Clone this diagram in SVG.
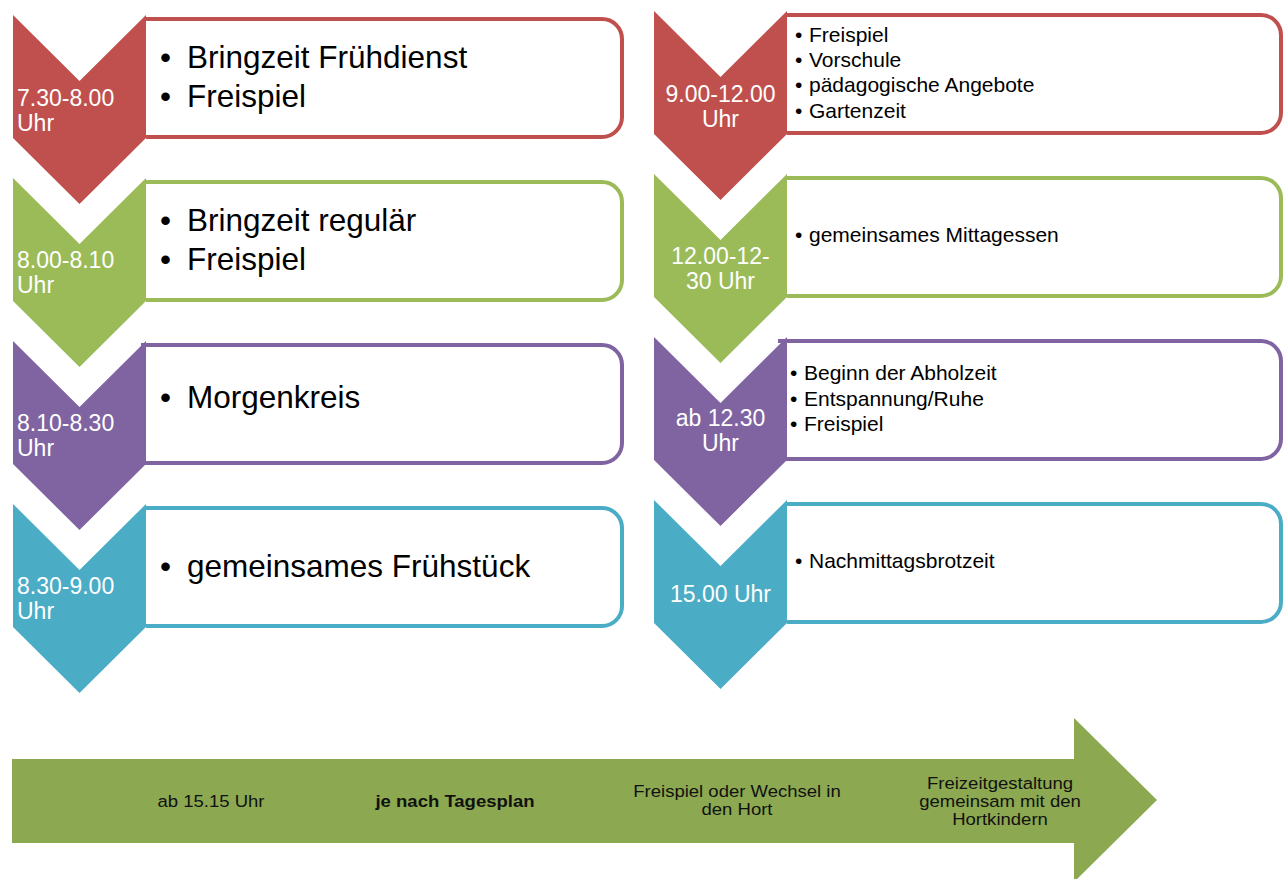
<svg xmlns="http://www.w3.org/2000/svg" width="1284" height="879" viewBox="0 0 1284 879">
<style>
  text { font-family: "Liberation Sans", Arial, sans-serif; }
  .box { fill: #ffffff; stroke-width: 4; }
  .big { font-size: 31.5px; fill: #000000; }
  .med { font-size: 21px; fill: #000000; }
  .lbl { font-size: 23px; fill: #ffffff; }
  .lblc { font-size: 23px; fill: #ffffff; text-anchor: middle; }
  .arr { font-size: 17px; fill: #111111; text-anchor: middle; }
  .red { fill: #C0504D; } .redS { stroke: #C0504D; }
  .grn { fill: #9BBB59; } .grnS { stroke: #9BBB59; }
  .pur { fill: #8064A2; } .purS { stroke: #8064A2; }
  .blu { fill: #4BACC6; } .bluS { stroke: #4BACC6; }
</style>
<rect width="1284" height="879" fill="#ffffff"/>

<!-- Left column -->
<g id="l1">
  <path class="box redS" d="M146,19 H602 A20,20 0 0 1 622,39 V117 A20,20 0 0 1 602,137 H146"/>
  <polygon class="red" points="13,15 79.5,81 146,15 146,138 79.5,204 13,138"/>
  <text class="lbl" x="17" y="106">7.30-8.00</text>
  <text class="lbl" x="17" y="131">Uhr</text>
  <text class="big" x="160" y="68">•</text><text class="big" x="187" y="68">Bringzeit Frühdienst</text>
  <text class="big" x="160" y="107">•</text><text class="big" x="187" y="107">Freispiel</text>
</g>
<g id="l2">
  <path class="box grnS" d="M146,182 H602 A20,20 0 0 1 622,202 V280 A20,20 0 0 1 602,300 H146"/>
  <polygon class="grn" points="13,178 79.5,244 146,178 146,301 79.5,367 13,301"/>
  <text class="lbl" x="17" y="268">8.00-8.10</text>
  <text class="lbl" x="17" y="293">Uhr</text>
  <text class="big" x="160" y="231">•</text><text class="big" x="187" y="231">Bringzeit regulär</text>
  <text class="big" x="160" y="270">•</text><text class="big" x="187" y="270">Freispiel</text>
</g>
<g id="l3">
  <path class="box purS" d="M141,345 H602 A20,20 0 0 1 622,365 V443 A20,20 0 0 1 602,463 H141"/>
  <polygon class="pur" points="13,341 79.5,407 146,341 146,464 79.5,530 13,464"/>
  <text class="lbl" x="17" y="431">8.10-8.30</text>
  <text class="lbl" x="17" y="456">Uhr</text>
  <text class="big" x="160" y="408">•</text><text class="big" x="187" y="408">Morgenkreis</text>
</g>
<g id="l4">
  <path class="box bluS" d="M146,508 H602 A20,20 0 0 1 622,528 V606 A20,20 0 0 1 602,626 H146"/>
  <polygon class="blu" points="13,504 79.5,570 146,504 146,627 79.5,693 13,627"/>
  <text class="lbl" x="17" y="594">8.30-9.00</text>
  <text class="lbl" x="17" y="619">Uhr</text>
  <text class="big" x="160" y="577">•</text><text class="big" x="187" y="577">gemeinsames Frühstück</text>
</g>

<!-- Right column -->
<g id="r1">
  <path class="box redS" d="M787,15 H1261 A20,20 0 0 1 1281,35 V113 A20,20 0 0 1 1261,133 H787"/>
  <polygon class="red" points="654,11 720.5,77 787,11 787,134 720.5,200 654,134"/>
  <text class="lblc" x="720.5" y="102">9.00-12.00</text>
  <text class="lblc" x="720.5" y="127">Uhr</text>
  <text class="med" x="795" y="42">•</text><text class="med" x="809" y="42">Freispiel</text>
  <text class="med" x="795" y="67">•</text><text class="med" x="809" y="67">Vorschule</text>
  <text class="med" x="795" y="92">•</text><text class="med" x="809" y="92">pädagogische Angebote</text>
  <text class="med" x="795" y="118">•</text><text class="med" x="809" y="118">Gartenzeit</text>
</g>
<g id="r2">
  <path class="box grnS" d="M787,178 H1261 A20,20 0 0 1 1281,198 V276 A20,20 0 0 1 1261,296 H787"/>
  <polygon class="grn" points="654,174 720.5,240 787,174 787,297 720.5,363 654,297"/>
  <text class="lblc" x="720.5" y="264">12.00-12-</text>
  <text class="lblc" x="720.5" y="289">30 Uhr</text>
  <text class="med" x="795" y="242">•</text><text class="med" x="809" y="242">gemeinsames Mittagessen</text>
</g>
<g id="r3">
  <path class="box purS" d="M778,341 H1261 A20,20 0 0 1 1281,361 V439 A20,20 0 0 1 1261,459 H778"/>
  <polygon class="pur" points="654,337 720.5,403 787,337 787,460 720.5,526 654,460"/>
  <text class="lblc" x="720.5" y="426">ab 12.30</text>
  <text class="lblc" x="720.5" y="451">Uhr</text>
  <text class="med" x="790" y="380">•</text><text class="med" x="804" y="380">Beginn der Abholzeit</text>
  <text class="med" x="790" y="406">•</text><text class="med" x="804" y="406">Entspannung/Ruhe</text>
  <text class="med" x="790" y="431">•</text><text class="med" x="804" y="431">Freispiel</text>
</g>
<g id="r4">
  <path class="box bluS" d="M787,504 H1261 A20,20 0 0 1 1281,524 V602 A20,20 0 0 1 1261,622 H787"/>
  <polygon class="blu" points="654,500 720.5,566 787,500 787,623 720.5,689 654,623"/>
  <text class="lblc" x="720.5" y="602">15.00 Uhr</text>
  <text class="med" x="795" y="568">•</text><text class="med" x="809" y="568">Nachmittagsbrotzeit</text>
</g>

<!-- Bottom arrow -->
<g id="timeline">
  <polygon fill="#8CA850" points="12,759 1074,759 1074,718 1157,800 1074,882 1074,843 12,843"/>
  <g transform="translate(211,0) scale(1.09,1)"><text class="arr" x="0" y="807">ab 15.15 Uhr</text></g>
  <g transform="translate(455,0) scale(1.09,1)"><text class="arr" x="0" y="807" font-weight="bold">je nach Tagesplan</text></g>
  <g transform="translate(737,0) scale(1.09,1)">
    <text class="arr" x="0" y="797">Freispiel oder Wechsel in</text>
    <text class="arr" x="0" y="815">den Hort</text>
  </g>
  <g transform="translate(1000,0) scale(1.09,1)">
    <text class="arr" x="0" y="789">Freizeitgestaltung</text>
    <text class="arr" x="0" y="807">gemeinsam mit den</text>
    <text class="arr" x="0" y="825">Hortkindern</text>
  </g>
</g>
<g id="connectors"></g>
</svg>
